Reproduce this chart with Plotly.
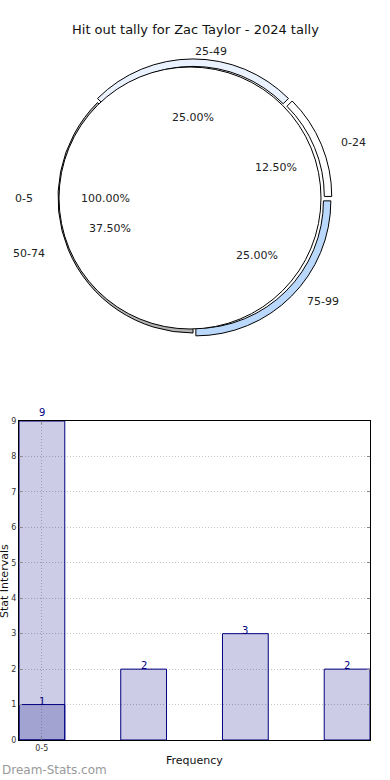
import math
import plotly.graph_objects as go

# ---------------- data ----------------
chart_title = "Hit out tally for Zac Taylor - 2024 tally"
inner_labels = ["0-5"]
inner_values = [9]
ring_labels = ["0-24", "25-49", "50-74", "75-99"]
ring_values = [1, 2, 3, 2]
ring_colors = ["#ffffff", "#eaf2ff", "#b4b4b4", "#b9d8fb"]
bar_tick_labels = ["0-5"]
total_series = [9]
interval_series = ring_values
x_title = "Frequency"
y_title = "Stat Intervals"
watermark = "Dream-Stats.com"

W, H = 390, 780
FONT = "DejaVu Sans"

fig = go.Figure()

# ---------------- pie geometry (pixels) ----------------
ring_cx, ring_cy = 193, 198
ring_r = 135
ring_pull = 0.03
inner_cx, inner_cy = 190, 198
inner_r = 131


def dom(cx, cy, half):
    return dict(x=[(cx - half) / W, (cx + half) / W],
                y=[1 - (cy + half) / H, 1 - (cy - half) / H])


ring_total = sum(ring_values)
# first slice starts at 3 o'clock and slices run counterclockwise
ring_rotation = 90 - ring_values[0] / ring_total * 360
pulls = [0 if lab == "50-74" else ring_pull for lab in ring_labels]
fig.add_trace(go.Pie(
    labels=ring_labels, values=ring_values, sort=False,
    direction="counterclockwise", rotation=ring_rotation, hole=0.945, pull=pulls,
    marker=dict(colors=ring_colors, line=dict(color="black", width=1)),
    textinfo="none", showlegend=False,
    domain=dom(ring_cx, ring_cy, ring_r * (1 + ring_pull)),
))
fig.add_trace(go.Pie(
    labels=inner_labels, values=inner_values, sort=False,
    direction="counterclockwise", rotation=90,
    marker=dict(colors=["#ffffff"], line=dict(color="black", width=1)),
    textinfo="none", showlegend=False,
    domain=dom(inner_cx, inner_cy, inner_r),
))

annotations = []


def add_text(px, py, text, xanchor="center", size=11, color="#222", **kw):
    annotations.append(dict(x=px / W, y=1 - py / H, xref="paper", yref="paper",
                            text=text, showarrow=False, xanchor=xanchor,
                            yanchor="middle",
                            font=dict(family=FONT, size=size, color=color), **kw))


def pie_texts(labels, values, cx, cy, lab_rx, lab_ry, pct_rx, pct_ry):
    total = sum(values)
    cum = 0
    for lab, v in zip(labels, values):
        mid = math.radians((cum + v / 2) / total * 360)
        cum += v
        c, s = math.cos(mid), math.sin(mid)
        anchor = "left" if c >= 0 else "right"
        add_text(cx + lab_rx * c, cy - lab_ry * s, lab, xanchor=anchor)
        add_text(cx + pct_rx * c, cy - pct_ry * s, f"{v / total * 100:.2f}%")


pie_texts(ring_labels, ring_values, ring_cx, ring_cy, 158, 146, 90, 81)
pie_texts(inner_labels, inner_values, inner_cx, inner_cy, 155, 145, 85, 81)

# title
add_text(195, 30, chart_title, size=13, color="#111")

# ---------------- bar chart ----------------
fill = "rgba(0,0,128,0.2)"
edge = "rgb(0,0,128)"
bw = 0.45
y_max = 9
fig.add_trace(go.Bar(x=list(range(len(total_series))), y=total_series, width=bw,
                     marker=dict(color=fill, line=dict(color=edge, width=1)),
                     showlegend=False, xaxis="x", yaxis="y"))
fig.add_trace(go.Bar(x=list(range(len(interval_series))), y=interval_series, width=bw,
                     marker=dict(color=fill, line=dict(color=edge, width=1)),
                     showlegend=False, xaxis="x", yaxis="y"))

for series in (total_series, interval_series):
    for i, v in enumerate(series):
        annotations.append(dict(x=i, y=v, xref="x", yref="y", text=str(v),
                                showarrow=False, yanchor="bottom",
                                yshift=1 if v >= y_max else -4,
                                font=dict(family=FONT, size=10, color="#000080")))

# axis titles and watermark
add_text(194, 760, x_title, size=11, color="#111")
add_text(4, 581, y_title, size=11, color="#111", textangle=-90)
annotations.append(dict(x=0, y=1 - 770 / H, xref="paper", yref="paper", text=watermark,
                        showarrow=False, xanchor="left", yanchor="middle",
                        font=dict(family=FONT, size=12, color="#999999")))

grid = dict(showgrid=True, gridcolor="#c4c4c4", griddash="1px,2px", gridwidth=1)
fig.update_layout(
    width=W, height=H, autosize=False,
    margin=dict(l=0, r=0, t=0, b=0, pad=0, autoexpand=False),
    paper_bgcolor="white", plot_bgcolor="white",
    barmode="overlay",
    font=dict(family=FONT),
    annotations=annotations,
    xaxis=dict(domain=[19 / W, 370 / W], range=[-0.225, 3.225], anchor="y",
               tickvals=[0], ticktext=bar_tick_labels, automargin=False,
               tickfont=dict(size=8, color="#333"),
               ticks="inside", ticklen=3, tickcolor="#888",
               showline=True, linecolor="black", linewidth=1, mirror="ticks",
               zeroline=False, **grid),
    yaxis=dict(domain=[1 - 740 / H, 1 - 421 / H], range=[0, y_max], anchor="x",
               dtick=1, automargin=False, tickfont=dict(size=8, color="#333"),
               ticks="inside", ticklen=3, tickcolor="#888",
               showline=True, linecolor="black", linewidth=1, mirror="ticks",
               zeroline=False, **grid),
)

fig.write_html("out.html", config={"displayModeBar": False},
               post_script="document.body.style.margin='0';document.body.style.overflow='hidden';")
